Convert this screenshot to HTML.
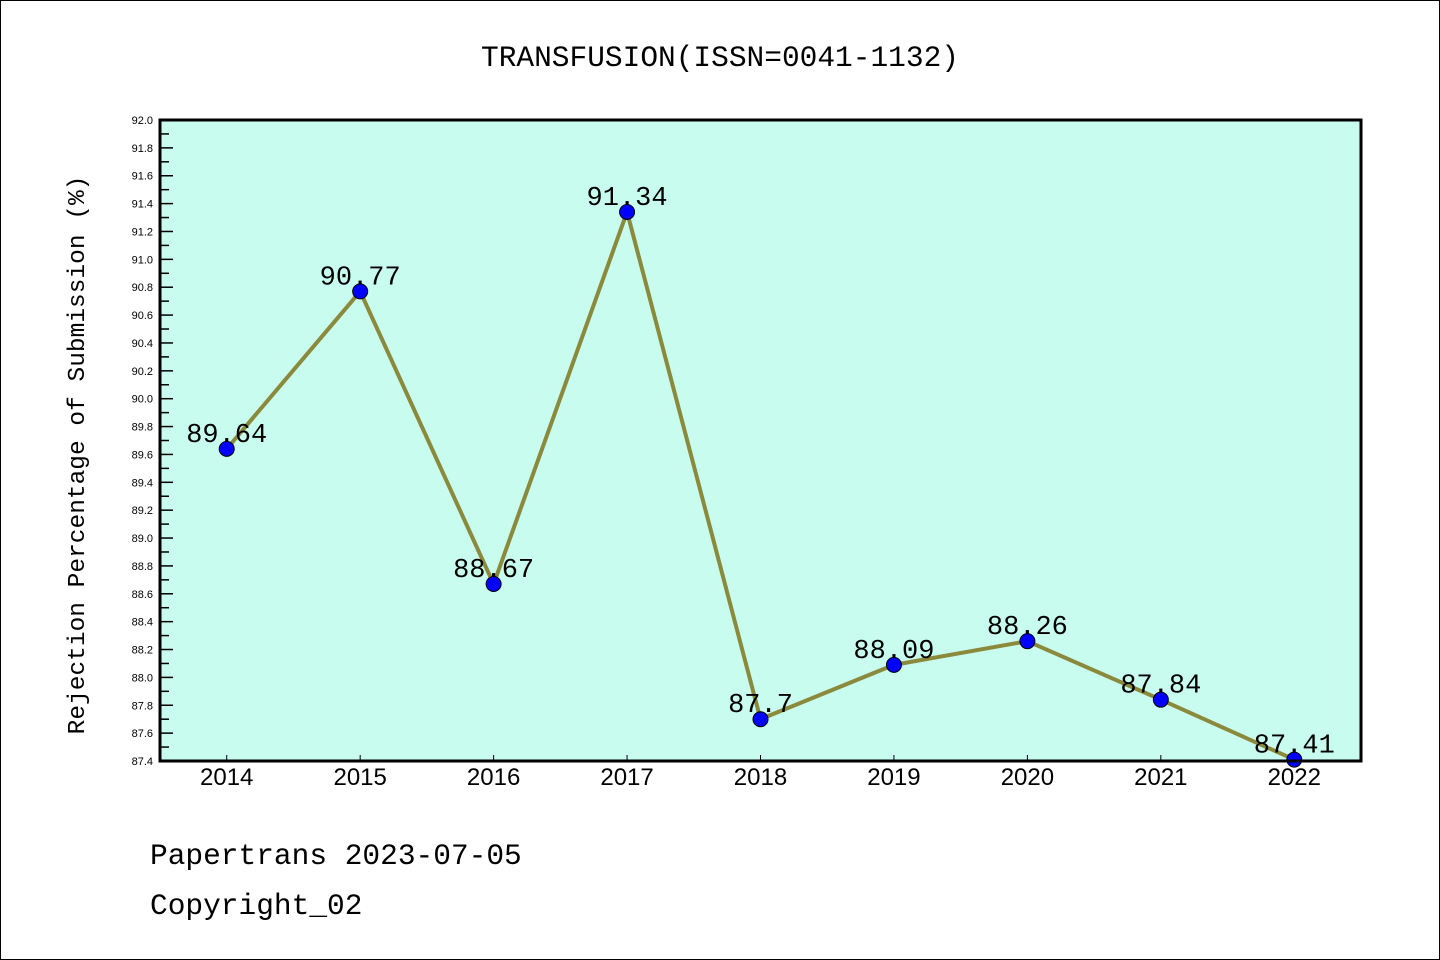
<!DOCTYPE html>
<html><head><meta charset="utf-8"><style>
html,body{margin:0;padding:0;background:#fff}
svg{display:block}
text{font-family:"Liberation Mono",monospace}
.sans{font-family:"Liberation Sans",sans-serif}
</style></head><body>
<svg id="chart" width="1440" height="960">
<rect x="0.5" y="0.5" width="1439" height="959" fill="#fff" stroke="#000"/>
<text x="720" y="66" font-size="29.5" text-anchor="middle">TRANSFUSION(ISSN=0041-1132)</text>
<rect x="160" y="120" width="1201" height="641" fill="#c8fcee"/>
<g id="yaxis"></g><g id="xaxis"></g><g id="series"></g>
<rect x="160" y="120" width="1201" height="641" fill="none" stroke="#000" stroke-width="3"/>
<text transform="translate(84,455) rotate(-90)" font-size="24.5" text-anchor="middle">Rejection Percentage of Submission (%)</text>
<text x="150" y="864" font-size="29.5">Papertrans 2023-07-05</text>
<text x="150" y="914" font-size="29.5">Copyright_02</text>
</svg>
<script>
const categories=["2014","2015","2016","2017","2018","2019","2020","2021","2022"];
const values=[89.64,90.77,88.67,91.34,87.7,88.09,88.26,87.84,87.41];
const valueLabels=["89.64","90.77","88.67","91.34","87.7","88.09","88.26","87.84","87.41"];
const yMin=87.4,yMax=92.0;
const NS="http://www.w3.org/2000/svg";
const L=160,R=1361,T=120,B=761;
const bw=(R-L)/categories.length;
function xs(i){return L+(i+0.5)*bw;}
function ys(v){return B-(v-yMin)/(yMax-yMin)*(B-T);}
function mk(tag,attrs,parent){const e=document.createElementNS(NS,tag);for(const k in attrs)e.setAttribute(k,attrs[k]);parent.appendChild(e);return e;}
const ya=document.getElementById('yaxis'),xa=document.getElementById('xaxis'),sg=document.getElementById('series');
for(let k=0;k<=46;k++){
  const v=yMin+k*0.1,y=ys(v),major=k%2===0;
  const t=mk('line',{x1:L,x2:L+(major?13:9),y1:y,y2:y,stroke:'#000','stroke-width':1.5},ya);
  
  
  if(major){
    const tx=mk('text',{x:L-7,y:y+4,'font-size':11,'text-anchor':'end','class':'sans'},ya);
    tx.textContent=v.toFixed(1);
    
    
  }
}
categories.forEach((c,i)=>{
  const x=xs(i);
  const t=mk('line',{x1:x,x2:x,y1:B,y2:B-6,stroke:'#000','stroke-width':1},xa);
  
  
  const tx=mk('text',{x:x,y:B+24,'font-size':24,'text-anchor':'middle','class':'sans'},xa);
  tx.textContent=c;
  
  
});
const pts=values.map((v,i)=>xs(i)+','+ys(v)).join(' ');
const pl=mk('polyline',{points:pts,fill:'none',stroke:'#8b8a3c','stroke-width':4,'stroke-linejoin':'round'},sg);


values.forEach((v,i)=>{
  const c=mk('circle',{cx:xs(i),cy:ys(v),r:7.5,fill:'#0000ff',stroke:'#000','stroke-width':1},sg);
  
  
  const tx=mk('text',{x:xs(i),y:ys(v)-7,'font-size':27,'text-anchor':'middle'},sg);
  tx.textContent=valueLabels[i];
  
  
});
</script>
</body></html>
